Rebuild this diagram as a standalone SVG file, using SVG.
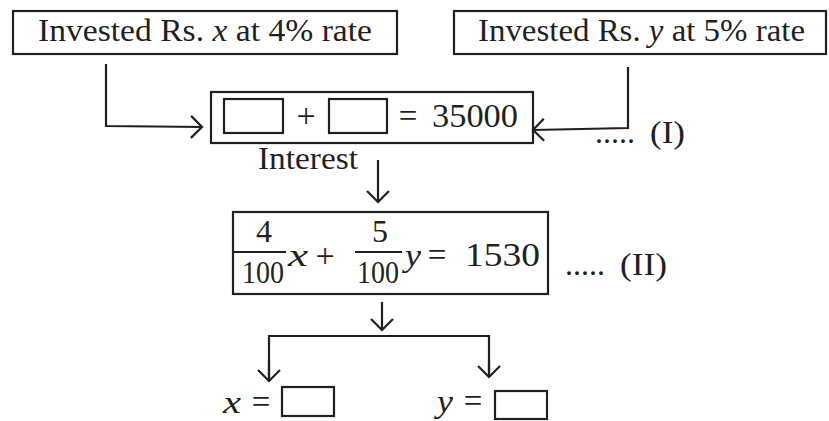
<svg xmlns="http://www.w3.org/2000/svg" width="829" height="421" viewBox="0 0 829 421">
<defs>
<marker id="arr" markerUnits="userSpaceOnUse" viewBox="0 0 14 24" markerWidth="14" markerHeight="24" refX="12" refY="12" orient="auto">
<path d="M1,1 L12,12 L1,23" fill="none" stroke="#231f20" stroke-width="2.2"/>
</marker>
</defs>
<style>
.box{fill:none;stroke:#231f20;stroke-width:2.2}
.t{font-family:"Liberation Serif","Times New Roman",serif;fill:#231f20}
.it{font-style:italic}
.ln{fill:none;stroke:#231f20;stroke-width:2.2}
</style>
<rect width="829" height="421" fill="#ffffff"/>
<g id="node-x">
<rect class="box" x="13" y="11" width="384" height="43"/>
<text class="t" x="38" y="41" font-size="31" textLength="334" lengthAdjust="spacingAndGlyphs">Invested Rs. <tspan class="it">x</tspan> at 4% rate</text>
</g>
<g id="node-y">
<rect class="box" x="454" y="11" width="372" height="43"/>
<text class="t" x="478" y="41" font-size="31" textLength="327" lengthAdjust="spacingAndGlyphs">Invested Rs. <tspan class="it">y</tspan> at 5% rate</text>
</g>
<g id="node-eq1">
<rect class="box" x="211" y="92" width="322" height="51"/>
<rect class="box" x="224" y="99" width="59" height="34"/>
<text class="t" x="306" y="127" font-size="34" text-anchor="middle">+</text>
<rect class="box" x="329" y="99" width="58" height="34"/>
<text class="t" x="408" y="127" font-size="33" text-anchor="middle">=</text>
<text class="t" x="432" y="127" font-size="33" textLength="86" lengthAdjust="spacingAndGlyphs">35000</text>
</g>
<g id="label-I">
<text class="t" x="595" y="143" font-size="32" textLength="40" lengthAdjust="spacingAndGlyphs">.....</text>
<text class="t" x="650" y="143" font-size="32" textLength="35" lengthAdjust="spacingAndGlyphs">(I)</text>
</g>
<g id="label-interest">
<text class="t" x="258" y="169" font-size="31" textLength="100" lengthAdjust="spacingAndGlyphs">Interest</text>
</g>
<g id="node-eq2">
<rect class="box" x="233" y="212" width="315" height="82"/>
<text class="t" x="264" y="242" font-size="32" text-anchor="middle">4</text>
<line class="ln" x1="234" y1="252" x2="286" y2="252" stroke-width="1.6"/>
<text class="t" x="242" y="283" font-size="32" textLength="42" lengthAdjust="spacingAndGlyphs">100</text>
<text class="t it" x="288" y="266" font-size="32" textLength="20" lengthAdjust="spacingAndGlyphs">x</text>
<text class="t" x="325" y="267" font-size="34" text-anchor="middle">+</text>
<text class="t" x="380" y="242" font-size="32" text-anchor="middle">5</text>
<line class="ln" x1="355" y1="252" x2="402" y2="252" stroke-width="1.6"/>
<text class="t" x="357" y="283" font-size="32" textLength="42" lengthAdjust="spacingAndGlyphs">100</text>
<text class="t it" x="405" y="266" font-size="32" textLength="16" lengthAdjust="spacingAndGlyphs">y</text>
<text class="t" x="437" y="266" font-size="33" text-anchor="middle">=</text>
<text class="t" x="465" y="266" font-size="33" textLength="75" lengthAdjust="spacingAndGlyphs">1530</text>
</g>
<g id="label-II">
<text class="t" x="565" y="275" font-size="32" textLength="40" lengthAdjust="spacingAndGlyphs">.....</text>
<text class="t" x="620" y="275" font-size="32" textLength="47" lengthAdjust="spacingAndGlyphs">(II)</text>
</g>
<g id="node-xres">
<text class="t it" x="223" y="413" font-size="32" textLength="18" lengthAdjust="spacingAndGlyphs">x</text>
<text class="t" x="261" y="413" font-size="33" text-anchor="middle">=</text>
<rect class="box" x="282" y="387" width="52" height="29"/>
</g>
<g id="node-yres">
<text class="t it" x="437" y="412" font-size="32" textLength="16" lengthAdjust="spacingAndGlyphs">y</text>
<text class="t" x="473" y="412" font-size="33" text-anchor="middle">=</text>
<rect class="box" x="495" y="391" width="52" height="28"/>
</g>
<g id="connectors">
<polyline class="ln" points="106,64 106,126 202,127" marker-end="url(#arr)"/>
<polyline class="ln" points="628,67 628,128 533,130" marker-end="url(#arr)"/>
<line class="ln" x1="378" y1="160" x2="378" y2="202" marker-end="url(#arr)"/>
<line class="ln" x1="382" y1="302" x2="382" y2="330" marker-end="url(#arr)"/>
<polyline class="ln" points="269,381 269,336 489,336 489,377" stroke-linejoin="miter"/>
<line class="ln" x1="269" y1="360" x2="269" y2="381" marker-end="url(#arr)"/>
<line class="ln" x1="489" y1="360" x2="489" y2="377" marker-end="url(#arr)"/>
</g>
</svg>
